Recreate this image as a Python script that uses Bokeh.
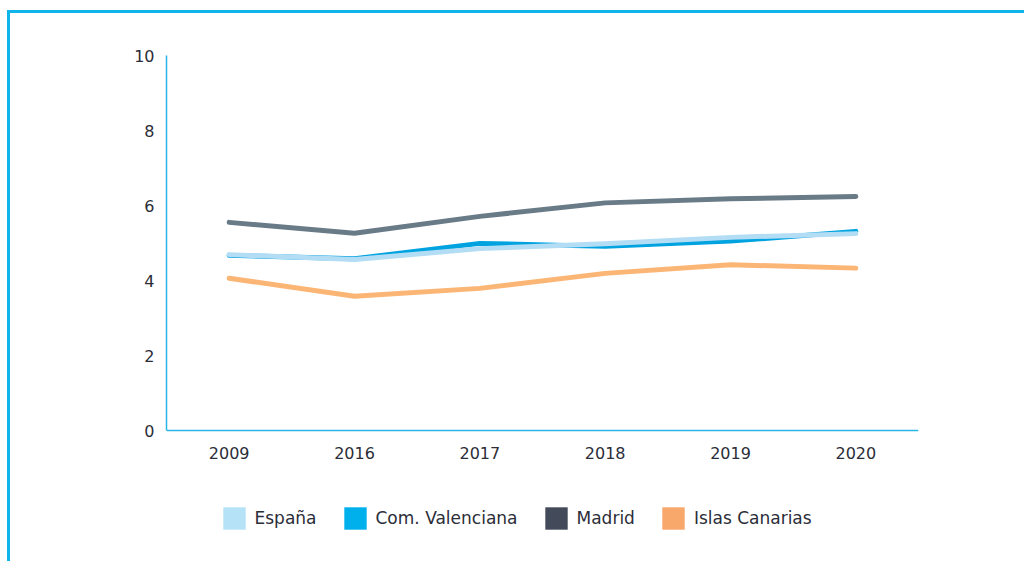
from bokeh.plotting import figure
from bokeh.models import Range1d, FactorRange, Legend, LegendItem, ColumnDataSource
from bokeh.embed import file_html
from bokeh.resources import INLINE

years = ["2009", "2016", "2017", "2018", "2019", "2020"]
espana = [4.69, 4.56, 4.85, 4.98, 5.15, 5.25]
valenciana = [4.67, 4.58, 4.99, 4.91, 5.05, 5.31]
madrid = [5.55, 5.26, 5.71, 6.07, 6.18, 6.24]
canarias = [4.06, 3.58, 3.79, 4.19, 4.42, 4.33]
y_ticks = [0, 2, 4, 6, 8, 10]

series_names = ["España", "Com. Valenciana", "Madrid", "Islas Canarias"]
line_colors = ["#b3ddf4", "#00a3e0", "#6a7b88", "#fbb574"]
legend_colors = ["#b5e2f7", "#00b0ec", "#434a59", "#f9a86c"]

AXIS = "#29b5e8"
TEXT = "#2b2d38"
FONT = "DejaVu Sans"

# canvas starts at (10, 13) in the window because of the CSS margin + border
OX, OY = 10, 13
FRAME_TOP, FRAME_BOTTOM = 55, 535     # window pixels
ZERO_PX, TEN_PX = 430, 55
px_per_unit = (ZERO_PX - TEN_PX) / 10.0
y_start = -(FRAME_BOTTOM - ZERO_PX) / px_per_unit

p = figure(frame_width=752, frame_height=FRAME_BOTTOM - FRAME_TOP,
           x_range=FactorRange(*years), y_range=Range1d(y_start, 10),
           output_backend="svg", toolbar_location=None,
           min_border_left=166 - OX, min_border_right=106, min_border_top=FRAME_TOP - OY,
           min_border_bottom=561 - FRAME_BOTTOM)
p.styles = {"margin-left": "7px", "margin-top": "10px",
            "border-top": "3px solid #0fb4ea", "border-left": "3px solid #0fb4ea"}
p.outline_line_color = None
p.grid.grid_line_color = None
p.background_fill_color = "white"
p.border_fill_color = "white"

for ax in (p.xaxis[0], p.yaxis[0]):
    ax.axis_line_color = AXIS
    ax.axis_line_width = 1.5
    ax.major_tick_line_color = None
    ax.minor_tick_line_color = None
    ax.major_tick_out = 0
    ax.major_tick_in = 0
    ax.major_label_text_font = FONT
    ax.major_label_text_font_size = "16px"
    ax.major_label_text_color = TEXT
p.yaxis.major_label_standoff = 12
p.xaxis.major_label_standoff = 16
p.yaxis.ticker = y_ticks
p.yaxis.bounds = (0, 10)
p.xaxis.fixed_location = 0
p.x_range.range_padding = 0
p.x_range.factor_padding = 0

order = [("Madrid", madrid, 2), ("Islas Canarias", canarias, 3),
         ("Com. Valenciana", valenciana, 1), ("España", espana, 0)]
for name, vals, ci in order:
    p.line(x=years, y=vals, line_color=line_colors[ci], line_width=5, line_cap="round", line_join="round")

# legend proxies: one NaN point each so the swatch gets a colour but nothing is drawn in the plot
items = []
for name, col in zip(series_names, legend_colors):
    src = ColumnDataSource(dict(x=[years[0]], y=[float("nan")]))
    r = p.rect(x="x", y="y", width=0.2, height=0.2, source=src, fill_color=col, line_color=None)
    items.append(LegendItem(label=name, renderers=[r]))

legend = Legend(items=items, orientation="horizontal", location=(53.5, 3.5),
                glyph_width=28, glyph_height=28, label_standoff=7, spacing=24,
                padding=0, margin=0, border_line_color=None, background_fill_alpha=0,
                label_text_font=FONT, label_text_font_size="17px", label_text_color=TEXT)
p.add_layout(legend, "center")

open("out.html", "w").write(file_html(p, INLINE))
